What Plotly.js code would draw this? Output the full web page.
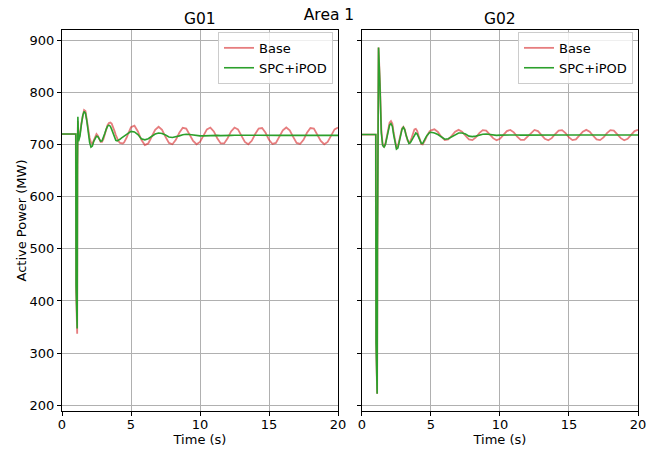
<!DOCTYPE html>
<html>
<head>
<meta charset="utf-8">
<script src="https://cdn.plot.ly/plotly-3.0.1.min.js"></script>
<style>html,body{margin:0;padding:0;background:#fff;}#chart{width:658px;height:450px;}</style>
</head>
<body>
<div id="chart"></div>
<script>
// Time axis (s)
const time = [0, 0.5, 0.99, 1.0, 1.02, 1.05, 1.08, 1.1, 1.12, 1.15,
  1.2, 1.3, 1.4, 1.5, 1.6, 1.7, 1.8, 1.9, 2.0,
  2.1, 2.2, 2.3, 2.4, 2.5, 2.6, 2.7, 2.8, 2.9, 3.0,
  3.1, 3.2, 3.3, 3.4, 3.5, 3.6, 3.7, 3.8, 3.9, 4.0,
  4.1, 4.2, 4.3, 4.4, 4.5, 4.6, 4.7, 4.8, 4.9, 5.0,
  5.25, 5.5, 5.75, 6.0, 6.25, 6.5, 6.75, 7.0, 7.25, 7.5, 7.75, 8.0, 8.25, 8.5, 8.75, 9.0, 9.25, 9.5, 9.75, 10.0,
  10.25, 10.5, 10.75, 11.0, 11.25, 11.5, 11.75, 12.0, 12.25, 12.5, 12.75, 13.0, 13.25, 13.5, 13.75, 14.0, 14.25, 14.5, 14.75, 15.0,
  15.25, 15.5, 15.75, 16.0, 16.25, 16.5, 16.75, 17.0, 17.25, 17.5, 17.75, 18.0, 18.25, 18.5, 18.75, 19.0, 19.25, 19.5, 19.75, 20.0];

// G01 active power (MW)
const g01Base = [720, 720, 720, 720, 420, 360, 342, 337, 640, 745,
  710, 720, 740, 757, 766, 764, 750, 730, 713,
  704, 701, 708, 717, 720, 717, 710, 705, 705, 710,
  719, 729, 737, 741, 742, 740, 734, 726, 718, 711,
  706, 703, 702, 702, 704, 708, 714, 721, 728, 733,
  736, 725, 709, 699, 702, 714, 728, 734, 728, 714.5, 703, 700.5, 709, 722.5, 732, 730.5, 720, 707, 700.5, 705,
  717, 729, 732.5, 725, 712, 702, 702, 712, 725, 732.5, 729, 717, 705, 700.5, 707, 720, 730.5, 731.5, 722.5, 709,
  701, 703, 714.5, 727, 732.5, 727, 714.5, 703, 701, 709, 722.5, 731.5, 730.5, 720, 707, 700.5, 705, 717, 729, 732.5];

const g01Spc = [720, 720, 720, 720, 430, 368, 352, 347, 660, 753,
  706, 716, 737, 755, 763, 760, 745, 723, 704,
  695, 697, 706, 713, 716, 715, 710, 706, 707, 713,
  721, 729, 735, 737, 735, 729, 721, 713, 708, 707,
  708, 710, 712, 714, 716, 718, 720, 722, 724, 725,
  724, 719, 711, 709, 711, 715, 720, 722, 721, 718, 714.5, 713.5, 714.5, 716.5, 718.5, 719.5, 719, 718, 717, 716.5,
  716.5, 717, 717.5, 717.8, 717.5, 717, 716.8, 717, 717.5, 717.8, 717.6, 717.2, 716.9, 717, 717.3, 717.6, 717.7, 717.5, 717.2, 717.0,
  717.0, 717.1, 717.4, 717.6, 717.6, 717.4, 717.2, 717.1, 717.2, 717.4, 717.6, 717.6, 717.5, 717.3, 717.2, 717.2, 717.4, 717.5, 717.5, 717.5];

// G02 active power (MW)
const g02Base = [719, 719, 719, 719, 320, 245, 226, 222, 500, 800,
  886, 820, 730, 700, 695, 702, 716, 732, 742,
  745, 740, 722, 703, 694, 696, 708, 722, 731, 734,
  729, 718, 708, 704, 706, 713, 722, 729, 730, 726,
  717, 707, 701, 700, 704, 710, 716, 721, 725, 727,
  729, 724, 715, 708.5, 709.7, 716.7, 724.6, 728, 724.6, 716.7, 709.7, 708.3, 713.5, 721.7, 727.4, 726.7, 720.1, 712.1, 708, 710.8,
  718.4, 725.8, 727.9, 723.2, 715.1, 708.9, 708.9, 715.1, 723.2, 727.9, 725.8, 718.4, 710.8, 708, 712.1, 720.1, 726.7, 727.4, 721.7, 713.5,
  708.3, 709.7, 716.7, 724.6, 728, 724.6, 716.7, 709.7, 708.3, 713.5, 721.7, 727.4, 726.7, 720.1, 712.1, 708, 710.8, 718.4, 725.8, 727.9];

const g02Spc = [719, 719, 719, 719, 320, 245, 226, 222, 500, 800,
  886, 815, 722, 698, 695, 700, 713, 728, 737,
  740, 735, 718, 700, 691, 693, 705, 719, 729, 733,
  728, 717, 707, 702, 703, 708, 715, 720, 722, 720,
  714, 707, 702, 702, 706, 712, 717, 721, 723, 723.5,
  722, 719, 714, 710, 711, 715, 719, 722, 722, 720, 716, 715, 716, 718, 719.5, 720, 719, 718, 717.5, 718,
  718.3, 718.6, 718.7, 718.5, 718.2, 718, 718.1, 718.4, 718.6, 718.6, 718.4, 718.1, 718, 718.2, 718.4, 718.6, 718.5, 718.3, 718.1, 718.1,
  718.2, 718.4, 718.5, 718.5, 718.3, 718.2, 718.1, 718.2, 718.4, 718.5, 718.5, 718.4, 718.2, 718.2, 718.3, 718.4, 718.5, 718.4, 718.3, 718.3];

const seriesNames = ['Base', 'SPC+iPOD'];
const panelTitles = ['G01', 'G02'];
const xTicks = [0, 5, 10, 15, 20];
const yTicks = [200, 300, 400, 500, 600, 700, 800, 900];

const FONT = 'DejaVu Sans, sans-serif';
const SMALL = 13;
const LARGE = 15.5;
const baseColor = 'rgba(214,39,40,0.6)';
const spcColor = '#2ca02c';

const traces = [
  {x: time, y: g01Base, name: seriesNames[0], xaxis: 'x', yaxis: 'y', legend: 'legend', mode: 'lines', line: {color: baseColor, width: 1.8}},
  {x: time, y: g01Spc, name: seriesNames[1], xaxis: 'x', yaxis: 'y', legend: 'legend', mode: 'lines', line: {color: spcColor, width: 1.6}},
  {x: time, y: g02Base, name: seriesNames[0], xaxis: 'x2', yaxis: 'y2', legend: 'legend2', mode: 'lines', line: {color: baseColor, width: 1.8}},
  {x: time, y: g02Spc, name: seriesNames[1], xaxis: 'x2', yaxis: 'y2', legend: 'legend2', mode: 'lines', line: {color: spcColor, width: 1.6}}
];

const axCommon = {
  showgrid: true, gridcolor: '#b0b0b0', gridwidth: 1,
  showline: true, linecolor: '#000', linewidth: 1, mirror: true,
  ticks: 'outside', ticklen: 4, tickwidth: 1, tickcolor: '#000',
  zeroline: false, tickfont: {family: FONT, size: SMALL, color: '#000'}
};

const xax = (domain, anchor) => Object.assign({}, axCommon, {
  domain: domain, anchor: anchor, range: [0, 20], tickvals: xTicks, ticklabelstandoff: -3,
  title: {text: 'Time (s)', font: {family: FONT, size: SMALL, color: '#000'}, standoff: 1}
});

const legendCommon = {
  font: {family: FONT, size: SMALL, color: '#000'},
  bgcolor: 'rgba(255,255,255,0.8)', bordercolor: '#cccccc', borderwidth: 1,
  xanchor: 'right', yanchor: 'top', y: 0.995, tracegroupgap: 0
};

const layout = {
  width: 658, height: 450,
  margin: {l: 62, r: 20, t: 30, b: 39},
  paper_bgcolor: '#fff', plot_bgcolor: '#fff',
  font: {family: FONT, color: '#000'},
  title: {text: 'Area 1', font: {family: FONT, size: LARGE, color: '#000'}, x: 0.5, xref: 'container', xanchor: 'center', y: 0.968, yanchor: 'middle'},
  xaxis: xax([0, 0.4792], 'y'),
  xaxis2: xax([0.5208, 1], 'y2'),
  yaxis: Object.assign({}, axCommon, {domain: [0, 1], anchor: 'x', range: [189, 919.5], tickvals: yTicks,
    title: {text: 'Active Power (MW)', font: {family: FONT, size: SMALL, color: '#000'}, standoff: 0}}),
  yaxis2: Object.assign({}, axCommon, {domain: [0, 1], anchor: 'x2', range: [189, 919.5], tickvals: yTicks, showticklabels: false}),
  legend: Object.assign({}, legendCommon, {x: 0.4705}),
  legend2: Object.assign({}, legendCommon, {x: 0.9913}),
  showlegend: true,
  annotations: panelTitles.map((t, i) => ({
    text: t, xref: (i === 0 ? 'x domain' : 'x2 domain'), yref: 'paper', x: 0.5, y: 1.03,
    xanchor: 'center', yanchor: 'middle', showarrow: false,
    font: {family: FONT, size: LARGE, color: '#000'}
  }))
};

Plotly.newPlot('chart', traces, layout, {staticPlot: true, displayModeBar: false});
</script>
</body>
</html>
